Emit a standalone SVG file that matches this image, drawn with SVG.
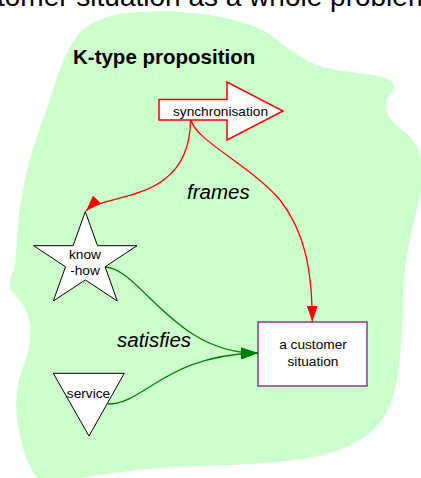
<svg xmlns="http://www.w3.org/2000/svg" width="421" height="478" viewBox="0 0 421 478">
<style>
text{font-family:"Liberation Sans",Arial,sans-serif;fill:#000}
.lbl{font-size:13.7px;text-anchor:middle}
.big{font-size:20.5px;font-style:italic}
.node{fill:#fff;stroke:#000;stroke-width:1}
.red{fill:none;stroke:#ff0000;stroke-width:1.3}
.green{fill:none;stroke:#008000;stroke-width:1.3}
</style>
<defs>
<marker id="arrRed" viewBox="0 0 16 11" refX="16" refY="5.5" markerWidth="16" markerHeight="11" markerUnits="userSpaceOnUse" orient="auto">
<path d="M0,0 L16,5.5 L0,11 z" fill="#ff0000"/>
</marker>
<marker id="arrGreen" viewBox="0 0 17 12" refX="17" refY="6" markerWidth="17" markerHeight="12" markerUnits="userSpaceOnUse" orient="auto">
<path d="M0,0 L17,6 L0,12 z" fill="#008000"/>
</marker>
</defs>
<text x="-3" y="5.5" font-size="28">tomer situation as a whole problem</text>
<path id="blob" fill="#ccffcc" d="M140,12 C180,9 230,15 263,30 C280,40 292,55 320,66 C345,74 375,72 390,80 C398,86 392,92 388,98 C382,108 388,120 405,132 C425,148 425,175 418,205 C410,235 404,265 403,300 C402,345 400,380 390,405 C378,435 350,450 310,458 C260,466 200,465 160,468 C120,471 80,478 60,482 L40,482 C30,470 22,450 20,435 C15,415 15,395 20,375 C28,355 32,340 30,325 C28,310 20,300 12,292 C8,285 10,275 15,268 C17,240 18,215 22,195 C27,165 35,140 43,120 C52,97 62,50 82,30 C100,17 115,13 140,12 Z"/>
<text x="73" y="64" font-size="20.5" font-weight="bold">K-type proposition</text>
<g id="connectors">
<path class="red" d="M190.5,120 C190,205 104,192 86,211" marker-end="url(#arrRed)"/>
<path class="red" d="M191,120 C195,140 250,165 280,200 C305,232 312,270 312.3,321.7" marker-end="url(#arrRed)"/>
<path class="green" d="M105,267 C140,268 175,355 258,353" marker-end="url(#arrGreen)"/>
<path class="green" d="M108,404 C145,404 165,355 258,353" marker-end="url(#arrGreen)"/>
<text class="big" x="187" y="199">frames</text>
<text class="big" x="117" y="347">satisfies</text>
</g>
<g id="synchronisation">
<polygon points="159,99.5 227,99.5 227,82 283,111 227,140 227,120 159,120" fill="#fff" stroke="#ff0000" stroke-width="1.5"/>
<text class="lbl" x="220.5" y="116">synchronisation</text>
</g>
<g id="know-how">
<polygon class="node" points="85.3,211.6 97.5,245.7 137,245.7 105.1,266.8 117.3,301 85.3,279.9 53.3,301 65.5,266.8 33.6,245.7 73.1,245.7"/>
<text class="lbl" x="85" y="259.3">know</text>
<text class="lbl" x="85" y="275.3">-how</text>
</g>
<g id="service">
<polygon class="node" points="53.3,373.3 124.3,373.3 89,436"/>
<text class="lbl" x="88.5" y="398.3">service</text>
</g>
<g id="customer-situation">
<rect x="258" y="322" width="109" height="64" fill="#fff" stroke="#800080" stroke-width="1.2"/>
<text class="lbl" x="313" y="349.3">a customer</text>
<text class="lbl" x="313" y="366">situation</text>
</g>
</svg>
